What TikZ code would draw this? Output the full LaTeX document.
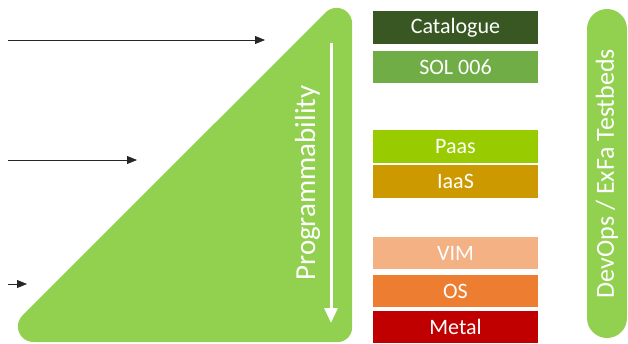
\documentclass[tikz,border=0pt]{standalone}
\usepackage{fontspec}
\setmainfont{Carlito}
\usetikzlibrary{arrows.meta}
\definecolor{leafgreen}{HTML}{92D050}
\definecolor{catgreen}{HTML}{385723}
\definecolor{solgreen}{HTML}{70AD47}
\definecolor{paaslime}{HTML}{99CC00}
\definecolor{iaasgold}{HTML}{CC9900}
\definecolor{vimpeach}{HTML}{F4B183}
\definecolor{osorange}{HTML}{ED7D31}
\definecolor{metalred}{HTML}{C00000}
\begin{document}
\begin{tikzpicture}[x=1pt,y=-1pt,
  layer/.style={fill=#1, text=white, minimum width=165pt, minimum height=32pt,
    inner sep=0pt, font=\fontsize{22}{24}\selectfont},
  feed/.style={draw=black!85, line width=0.8pt, -{Triangle[length=10pt,width=8pt]}},
  pill/.style={fill=leafgreen, text=white, rounded corners=20pt, inner sep=0pt,
    minimum width=329pt, minimum height=40pt, rotate=90,
    font=\fontsize{26}{28}\selectfont},
]
\useasboundingbox (0,0) rectangle (628,343);

% programmability wedge: right triangle with rounded corners (y axis points down)
\fill[leafgreen] (352,23.4) -- (352,328)
  arc[start angle=0, end angle=90, radius=14] -- (33.4,342)
  arc[start angle=90, end angle=225, radius=15.5] -- (325.6,12.4)
  arc[start angle=225, end angle=360, radius=15.5] -- cycle;
\coordinate (progtop) at (331,43);
\coordinate (progbot) at (331,323);
\draw[white, line width=3pt, -{Triangle[length=15pt,width=13pt]}] (progtop) -- (progbot);
\node[text=white, rotate=90, anchor=base, font=\fontsize{29}{31}\selectfont]
  (prog) at (315,183) {Programmability};

% incoming arrows
\coordinate (s1) at (8,40);    \coordinate (e1) at (265,40);
\coordinate (s2) at (8,160);   \coordinate (e2) at (137,160);
\coordinate (s3) at (8,284);   \coordinate (e3) at (27,284);
\draw[feed] (s1) -- (e1);
\draw[feed] (s2) -- (e2);
\draw[feed] (s3) -- (e3);

% layer stack
\node[layer=catgreen, minimum height=33pt] (cat)   at (455.5,27.5)  {Catalogue};
\node[layer=solgreen]                      (sol)   at (455.5,67)    {SOL 006};
\node[layer=paaslime, minimum height=33pt] (paas)  at (455.5,146.5) {Paas};
\node[layer=iaasgold, minimum height=33pt] (iaas)  at (455.5,181.5) {IaaS};
\node[layer=vimpeach]                      (vim)   at (455.5,253)   {VIM};
\node[layer=osorange]                      (os)    at (455.5,291)   {OS};
\node[layer=metalred]                      (metal) at (455.5,327)   {Metal};

% testbed bar
\node[pill] (bed) at (607,173.5) {DevOps / ExFa Testbeds};
\end{tikzpicture}
\end{document}
